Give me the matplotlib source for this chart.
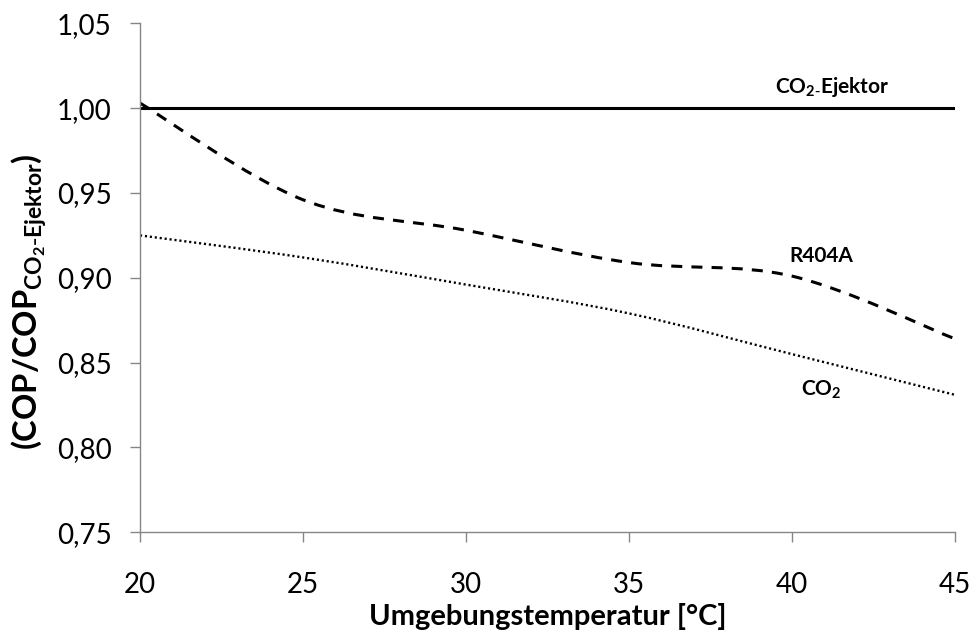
import matplotlib
matplotlib.use("Agg")
import matplotlib.pyplot as plt
from matplotlib.path import Path
from matplotlib.patches import PathPatch
from matplotlib.ticker import FuncFormatter
import numpy as np

plt.rcParams['font.family'] = ['Lato', 'DejaVu Sans']
plt.rcParams['mathtext.default'] = 'regular'

# Ambient temperature [°C]
temperature = [20, 25, 30, 35, 40, 45]
# COP relative to the CO2 ejector system
cop_ejector = [1.000, 1.000, 1.000, 1.000, 1.000, 1.000]
cop_r404a = [1.003, 0.946, 0.928, 0.909, 0.901, 0.864]
cop_co2 = [0.925, 0.912, 0.896, 0.879, 0.855, 0.831]

x_ticks = [20, 25, 30, 35, 40, 45]
y_ticks = [0.75, 0.80, 0.85, 0.90, 0.95, 1.00, 1.05]


def smooth_path(xs, ys):
    """Spreadsheet-style smoothed line: cubic Bezier segments through the points."""
    pts = np.column_stack([xs, ys]).astype(float)
    n = len(pts)
    verts = [pts[0]]
    codes = [Path.MOVETO]
    for i in range(n - 1):
        p0 = pts[i - 1] if i > 0 else pts[i]
        p1 = pts[i]
        p2 = pts[i + 1]
        p3 = pts[i + 2] if i + 2 < n else pts[i + 1]
        c1 = p1 + (p2 - p0) / 6.0
        c2 = p2 - (p3 - p1) / 6.0
        verts += [c1, c2, p2]
        codes += [Path.CURVE4] * 3
    return Path(verts, codes)


fig = plt.figure(figsize=(9.73, 6.31), dpi=100)
ax = fig.add_axes([0.1439, 0.1565, 0.8376, 0.8065])

ax.plot(temperature, cop_ejector, color='black', lw=2.2, solid_capstyle='butt')
ax.add_patch(PathPatch(smooth_path(temperature, cop_r404a), fill=False,
                       edgecolor='black', lw=2.2, linestyle=(0, (3.6, 3.0)),
                       capstyle='butt'))
ax.add_patch(PathPatch(smooth_path(temperature, cop_co2), fill=False,
                       edgecolor='black', lw=1.7, linestyle=(0, (0.9, 1.2)),
                       capstyle='butt'))

ax.set_xlim(20, 45)
ax.set_ylim(0.75, 1.05)
ax.set_xticks(x_ticks)
ax.set_yticks(y_ticks)
ax.xaxis.set_major_formatter(FuncFormatter(lambda v, p: f"{v:.0f}"))
ax.yaxis.set_major_formatter(FuncFormatter(lambda v, p: f"{v:.2f}".replace('.', ',')))

for side in ('top', 'right'):
    ax.spines[side].set_visible(False)
for side in ('left', 'bottom'):
    ax.spines[side].set_color('#868686')
    ax.spines[side].set_linewidth(1.0)
ax.tick_params(axis='both', direction='out', length=7.5, width=1.0,
               color='#868686', labelsize=20, labelcolor='black')
ax.tick_params(axis='y', pad=13)
ax.tick_params(axis='x', pad=21)

ax.set_xlabel('Umgebungstemperatur [°C]', fontsize=21, fontweight='bold', labelpad=4)
ax.set_ylabel(r'$(COP/COP_{CO_2\text{-}Ejektor})$', fontsize=23.5, fontweight='bold')
ax.yaxis.set_label_coords(-0.112, 0.4534)

ax.text(41.22, 1.0088, r'$CO_{2\text{-}}Ejektor$', fontsize=15, fontweight='bold',
        ha='center', va='baseline')
ax.text(40.91, 0.9096, 'R404A', fontsize=15, fontweight='bold',
        ha='center', va='baseline')
ax.text(40.91, 0.8307, r'$CO_2$', fontsize=15, fontweight='bold',
        ha='center', va='baseline')

fig.savefig('out.png', dpi=100)
